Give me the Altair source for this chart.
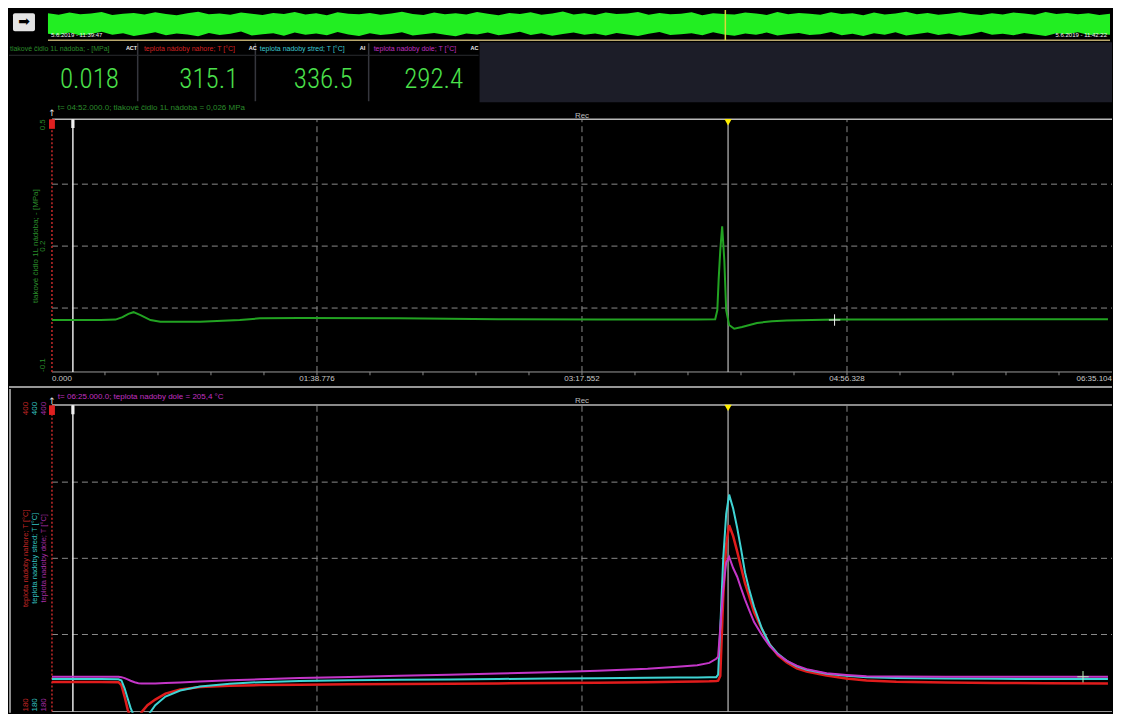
import altair as alt
import pandas as pd

# ------------------------------------------------------------------ data
DURATION = 395.104
TIME_TICKS = [0.0, 98.776, 197.552, 296.328, 395.104]
TIME_LABELS = ["0.000", "01:38.776", "03:17.552", "04:56.328", "06:35.104"]
CURSOR_T = 252.0
MARKER_T = 7.8
CROSS_TOP = (291.7, 0.021)
CROSS_BOTTOM = (384.3, 204.5)

PRESSURE_T = [0.0, 18.2, 23.7, 26.3, 28.5, 30.4, 33.0, 36.7, 40.4, 55.2,
              70.0, 77.5, 92.3, 129.4, 166.4, 203.5, 240.5, 247.2, 248.0, 248.5,
              249.1, 249.8, 250.6, 251.3, 252.4, 254.3, 257.2, 262.8, 268.4, 273.9,
              292.4, 314.7, 351.7, 393.6]
PRESSURE_MPA = [0.021, 0.021, 0.022, 0.028, 0.036, 0.040, 0.033, 0.021, 0.017, 0.017,
                0.021, 0.025, 0.026, 0.025, 0.023, 0.022, 0.022, 0.023, 0.045, 0.120,
                0.190, 0.248, 0.166, 0.045, 0.009, 0.000, 0.004, 0.014, 0.018, 0.020,
                0.022, 0.022, 0.023, 0.023]

TEMP_T = [0.0, 18.2, 24.8, 25.9, 27.1, 28.2, 29.3, 30.8, 32.2, 33.4,
          35.6, 38.5, 42.3, 47.8, 55.2, 66.3, 77.5, 92.3, 110.8, 129.4,
          147.9, 166.4, 185.0, 203.5, 222.0, 233.1, 240.5, 245.0, 247.6, 248.3,
          249.1, 250.2, 251.3, 252.4, 253.9, 255.4, 256.9, 258.3, 259.8, 261.7,
          264.6, 267.6, 270.6, 273.9, 277.6, 281.3, 288.7, 296.1, 303.6, 314.7,
          333.2, 351.7, 370.3, 393.6]
TEMP_TOP = [200.7, 200.7, 200.6, 198.5, 190.0, 181.0, 175.0, 171.0, 172.0, 179.0,
            184.0, 188.0, 192.3, 195.3, 197.1, 198.0, 198.5, 198.8, 199.1, 199.3,
            199.5, 199.7, 199.9, 200.2, 200.5, 200.8, 201.0, 201.2, 201.5, 201.7,
            205.0, 262.0, 300.0, 314.0, 306.0, 295.0, 283.0, 272.0, 263.0, 251.0,
            239.0, 227.6, 220.0, 214.8, 210.5, 208.2, 205.4, 203.3, 201.8, 200.9,
            200.3, 200.0, 199.8, 199.6]
TEMP_MID = [202.8, 202.8, 202.7, 201.8, 196.0, 189.0, 182.0, 175.0, 171.0, 171.0,
            176.0, 184.0, 190.2, 194.6, 197.4, 199.5, 200.6, 201.4, 201.9, 202.3,
            202.6, 202.9, 203.2, 203.5, 203.7, 203.9, 204.0, 204.1, 204.2, 206.0,
            240.0, 290.0, 322.0, 336.0, 326.0, 312.0, 296.0, 280.0, 268.0, 255.0,
            239.3, 227.6, 221.0, 216.0, 212.0, 209.5, 206.6, 205.2, 204.2, 203.6,
            203.2, 203.0, 202.9, 202.8]
TEMP_LOW = [204.5, 204.5, 204.5, 204.2, 203.5, 202.6, 201.6, 200.5, 199.8, 199.6,
            199.6, 199.7, 200.0, 200.4, 201.0, 201.9, 202.7, 203.6, 204.4, 205.2,
            206.0, 206.8, 207.8, 208.9, 210.3, 211.7, 212.8, 214.5, 217.5, 219.0,
            240.0, 268.0, 287.0, 291.0, 283.0, 276.7, 268.0, 260.4, 253.0, 244.0,
            234.6, 226.5, 220.5, 216.0, 212.5, 210.0, 207.0, 205.8, 204.9, 204.6,
            204.5, 204.5, 204.5, 204.5]

P_LABELS = [0.5, 0.2, -0.1]
P_GRID = [0.35, 0.2, 0.05]
T_LABELS = [400, 180]
T_GRID = [345, 290, 235]

CH_NAMES = ["tlakové čidlo 1L nádoba; - [MPa]", "teplota nádoby nahore; T [°C]",
            "teplota nadoby stred; T [°C]", "teplota nadoby dole; T [°C]"]
CH_TAGS = ["ACT", "AC", "AI", "AC"]
CH_READOUTS = ["0.018", "315.1", "336.5", "292.4"]

HEADER_TOP = "t= 04:52.000.0; tlakové čidlo 1L nádoba = 0,026 MPa"
HEADER_BOTTOM = "t= 06:25.000.0; teplota nadoby dole = 205,4 °C"
REC_TEXT = "Rec"
OVERVIEW_START = "5.6.2019 - 11:39:47"
OVERVIEW_END = "5.6.2019 - 11:42:22"

OVERVIEW_HI = [0.93, 0.87, 0.95, 0.89, 0.92, 0.97, 0.86, 0.91, 0.94, 0.88,
               0.96, 0.90, 0.85, 0.93, 0.98, 0.89, 0.92, 0.87, 0.95, 0.91,
               0.86, 0.94, 0.90, 0.97, 0.88, 0.93, 0.85, 0.96, 0.91, 0.89,
               0.94, 0.87, 0.92, 0.98, 0.90, 0.86, 0.95, 0.89, 0.93, 0.88,
               0.97, 0.91, 0.85, 0.94, 0.90, 0.96, 0.87, 0.92, 0.99, 0.88,
               0.93, 0.86, 0.95, 0.90, 0.92, 0.97, 0.87, 0.94, 0.89, 0.91,
               0.96, 0.85, 0.93, 0.90, 0.88, 0.95, 0.92, 0.86, 0.97, 0.89,
               0.94, 0.91, 0.87, 0.96, 0.90, 0.93, 0.85, 0.95, 0.88, 0.92,
               0.98, 0.89, 0.94, 0.87, 0.91, 0.96, 0.90, 0.86, 0.93, 0.88,
               0.95, 0.92, 0.87, 0.97, 0.90, 0.94, 0.89, 0.93, 0.86, 0.91]
OVERVIEW_LO = [0.14, 0.09, 0.18, 0.07, 0.13, 0.21, 0.10, 0.16, 0.05, 0.12,
               0.19, 0.08, 0.15, 0.11, 0.04, 0.17, 0.09, 0.14, 0.22, 0.07,
               0.12, 0.16, 0.06, 0.18, 0.10, 0.15, 0.08, 0.20, 0.11, 0.05,
               0.16, 0.09, 0.13, 0.19, 0.07, 0.12, 0.17, 0.10, 0.04, 0.15,
               0.11, 0.18, 0.08, 0.14, 0.21, 0.09, 0.16, 0.06, 0.13, 0.18,
               0.10, 0.15, 0.07, 0.17, 0.11, 0.05, 0.14, 0.20, 0.09, 0.12,
               0.16, 0.08, 0.19, 0.11, 0.06, 0.15, 0.10, 0.18, 0.07, 0.13,
               0.17, 0.09, 0.12, 0.20, 0.08, 0.14, 0.05, 0.16, 0.10, 0.19,
               0.07, 0.13, 0.18, 0.09, 0.15, 0.06, 0.12, 0.21, 0.10, 0.14,
               0.08, 0.17, 0.11, 0.05, 0.16, 0.12, 0.19, 0.09, 0.13, 0.10]

# ------------------------------------------------------------------ style / layout
W = 1104
H_A, H_B, H_C, H_D = 33, 62, 285, 324
FONT = "Liberation Sans, Arial, sans-serif"
DIGIT_FONT = "Roboto Condensed, Liberation Sans Narrow, Roboto, sans-serif"
GREEN_LINE = "#22a322"
GREEN_TXT = "#2b8c2b"
RED = "#e01c1c"
CYAN = "#3fd4d4"
MAG = "#c436c8"
AX_COLORS = ["#c42626", "#34c0c0", "#a52ca5"]
CH_COLORS = ["#2b8c2b", "#d42020", "#3cc8d0", "#c030c0"]
GRID = "#8a8a8a"

X_DOM = [-16.012, DURATION]
P_DOM = [-0.14355, 0.54597]
T_DOM = [178.557, 412.262]


def sc(dom, reverse=False):
    if reverse:
        return alt.Scale(domain=dom, nice=False, zero=False, reverse=True)
    return alt.Scale(domain=dom, nice=False, zero=False)


def D(**cols):
    return pd.DataFrame(cols)


def hrule(df, xs, ys, **mk):
    return alt.Chart(df).mark_rule(**mk).encode(
        x=alt.X("x0:Q", scale=xs, axis=None), x2="x1:Q",
        y=alt.Y("y:Q", scale=ys, axis=None))


def vrule(df, xs, ys, **mk):
    return alt.Chart(df).mark_rule(**mk).encode(
        x=alt.X("x:Q", scale=xs, axis=None),
        y=alt.Y("y0:Q", scale=ys, axis=None), y2="y1:Q")


def label(df, xs, ys, colored=False, **mk):
    mk.setdefault("font", FONT)
    enc = dict(x=alt.X("x:Q", scale=xs, axis=None),
               y=alt.Y("y:Q", scale=ys, axis=None), text="text:N")
    if colored:
        enc["color"] = alt.Color("c:N", scale=None)
    return alt.Chart(df).mark_text(**mk).encode(**enc)


def box(df, xs, ys, **mk):
    return alt.Chart(df).mark_rect(**mk).encode(
        x=alt.X("x0:Q", scale=xs, axis=None), x2="x1:Q",
        y=alt.Y("y0:Q", scale=ys, axis=None), y2="y1:Q")


def pt(df, xs, ys, **mk):
    return alt.Chart(df).mark_point(**mk).encode(
        x=alt.X("x:Q", scale=xs, axis=None),
        y=alt.Y("y:Q", scale=ys, axis=None))


CROSS_PATH = "M-1,0L1,0M0,-1L0,1"

# ------------------------------------------------------------------ row A: overview strip
n_env = len(OVERVIEW_HI)
ov_px = 1063 / (n_env - 1)          # pixels per overview sample
xa = sc([-39 / ov_px, (n_env - 1) + 2 / ov_px])
ya = sc([-0.1538, 1.1154])
env = pd.DataFrame({"i": list(range(n_env)), "hi": OVERVIEW_HI, "lo": OVERVIEW_LO})
green_band = alt.Chart(env).mark_area(color="#22ee22", opacity=1).encode(
    x=alt.X("i:Q", scale=xa, axis=None),
    y=alt.Y("hi:Q", scale=ya, axis=None), y2="lo:Q")
tan_line = hrule(D(x0=[0], x1=[n_env - 1], y=[-0.1154]), xa, ya, color="#b9a76c", strokeWidth=1.5)
cur_i = CURSOR_T / DURATION * (n_env - 1)
ov_cursor = vrule(D(x=[cur_i], y0=[-0.1154], y1=[1.05]), xa, ya, color="#d8d83a", strokeWidth=1.5)
icon = box(D(x0=[-35 / ov_px], x1=[-13 / ov_px], y0=[0.231], y1=[0.923]), xa, ya,
           color="#e4e4e4", cornerRadius=2)
icon_arrow = label(D(x=[-24 / ov_px], y=[0.577], text=["➡"]), xa, ya, fontSize=14,
                   color="black", font="DejaVu Sans", baseline="middle")
ov_start = label(D(x=[3 / ov_px], y=[0.077], text=[OVERVIEW_START]), xa, ya, align="left",
                 baseline="middle", fontSize=6, color="#f2f2f2")
ov_end = label(D(x=[(n_env - 1) - 3 / ov_px], y=[0.077], text=[OVERVIEW_END]), xa, ya,
               align="right", baseline="middle", fontSize=6, color="#f2f2f2")
rowA = alt.layer(green_band, tan_line, ov_cursor, icon, icon_arrow, ov_start, ov_end).properties(
    width=W, height=H_A)

# ------------------------------------------------------------------ row B: digital readouts
xb = sc([0, W])
yb = sc([0, H_B], reverse=True)
LABEL_X = [1, 135, 251, 365]
TAG_X = [117, 240, 351, 462]
VALUE_X = [110, 229.5, 344, 454.5]
SEP_X = [128.8, 246.6, 360.0]
dark_panel = box(D(x0=[471], x1=[W], y0=[1], y1=[61]), xb, yb, color="#1c1d28")
seps = vrule(D(x=SEP_X, y0=[2] * 3, y1=[60] * 3), xb, yb, color="#35363d", strokeWidth=1.5)
underline = hrule(D(x0=[0], x1=[470], y=[14]), xb, yb, color="#2a2b30", strokeWidth=1)
ch_labels = label(D(x=LABEL_X, y=[8] * 4, text=CH_NAMES, c=CH_COLORS), xb, yb, colored=True,
                  align="left", baseline="middle", fontSize=7)
ch_tags = label(D(x=TAG_X, y=[6.5] * 4, text=CH_TAGS), xb, yb, align="left",
                baseline="middle", fontSize=5.5, color="#f0f0f0", fontWeight="bold")
ch_values = label(D(x=VALUE_X, y=[38.5] * 4, text=CH_READOUTS), xb, yb, align="right",
                  baseline="middle", fontSize=27, color="#4be04b", font=DIGIT_FONT,
                  fontWeight=300)
rowB = alt.layer(dark_panel, seps, underline, ch_labels, ch_tags, ch_values).properties(
    width=W, height=H_B)

# ------------------------------------------------------------------ row C: pressure chart
xs = sc(X_DOM)
ps = sc(P_DOM)
P_TOP, P_BOT = 0.5073, -0.1048
c_hgrid = hrule(D(x0=[0] * 3, x1=[DURATION] * 3, y=P_GRID), xs, ps,
                color=GRID, strokeDash=[6, 4], strokeWidth=1)
c_vgrid = vrule(D(x=TIME_TICKS[1:4], y0=[P_BOT] * 3, y1=[P_TOP] * 3), xs, ps,
                color=GRID, strokeDash=[6, 4], strokeWidth=1)
c_top = hrule(D(x0=[0], x1=[DURATION], y=[P_TOP]), xs, ps, color="#b8b8b8", strokeWidth=1.5)
c_bot = hrule(D(x0=[0], x1=[DURATION], y=[P_BOT]), xs, ps, color="#9a9a9a", strokeWidth=1)
minor_t = [k * TIME_TICKS[1] / 5 for k in range(1, 20)]
c_minor = vrule(D(x=minor_t, y0=[P_BOT] * 19, y1=[P_BOT - 0.008] * 19), xs, ps,
                color="#8a8a8a", strokeWidth=1)
c_sep = hrule(D(x0=[X_DOM[0]], x1=[DURATION], y=[-0.1411]), xs, ps, color="#c8c8c8", strokeWidth=1.5)
c_axis = vrule(D(x=[0], y0=[P_BOT], y1=[P_TOP]), xs, ps, color="#c42a2a",
               strokeDash=[2, 2], strokeWidth=1.5)
c_mark = vrule(D(x=[MARKER_T], y0=[P_BOT], y1=[P_TOP]), xs, ps, color="#e6e6e6", strokeWidth=1.5)
c_mark_box = box(D(x0=[MARKER_T - 0.6], x1=[MARKER_T + 0.6], y0=[0.486], y1=[0.507]), xs, ps,
                 color="#f0f0f0")
c_red_box = box(D(x0=[-1.1], x1=[1.1], y0=[0.484], y1=[0.507]), xs, ps, color="#e02020")
c_cursor = vrule(D(x=[CURSOR_T], y0=[P_BOT], y1=[P_TOP]), xs, ps, color="#bdbdbd", strokeWidth=1.2)
c_tri = pt(D(x=[CURSOR_T], y=[0.4999]), xs, ps, shape="triangle-down", filled=True,
           size=55, color="#ffee00", opacity=1)
c_up = label(D(x=[0], y=[0.522], text=["↑"]), xs, ps, fontSize=9, color="#e0e0e0",
             baseline="middle", font="DejaVu Sans")
p_df = pd.DataFrame({"t": PRESSURE_T, "v": PRESSURE_MPA})
c_line = alt.Chart(p_df).mark_line(color=GREEN_LINE, strokeWidth=2).encode(
    x=alt.X("t:Q", scale=xs, axis=None), y=alt.Y("v:Q", scale=ps, axis=None))
c_cross = pt(D(x=[CROSS_TOP[0]], y=[CROSS_TOP[1]]), xs, ps, shape=CROSS_PATH, size=130,
             filled=False, color="#f0f0f0", strokeWidth=1, opacity=1)
c_header = label(D(x=[2.2], y=[0.5339], text=[HEADER_TOP]), xs, ps, align="left",
                 baseline="middle", fontSize=8, color=GREEN_TXT)
c_rec = label(D(x=[TIME_TICKS[2]], y=[0.5145], text=[REC_TEXT]), xs, ps, align="center",
              baseline="middle", fontSize=8, color="#bdbdbd")
XL_Y = -0.1218
c_xl0 = label(D(x=TIME_TICKS[:1], y=[XL_Y], text=TIME_LABELS[:1]), xs, ps, align="left",
              baseline="middle", fontSize=8, color="#c8c8c8")
c_xlm = label(D(x=TIME_TICKS[1:4], y=[XL_Y] * 3, text=TIME_LABELS[1:4]), xs, ps, align="center",
              baseline="middle", fontSize=8, color="#c8c8c8")
c_xl4 = label(D(x=TIME_TICKS[4:], y=[XL_Y], text=TIME_LABELS[4:]), xs, ps, align="right",
              baseline="middle", fontSize=8, color="#c8c8c8")
PX = -3.2
c_yl_top = label(D(x=[PX], y=[P_TOP], text=[f"{P_LABELS[0]:g}"]), xs, ps, angle=270,
                 align="right", baseline="middle", fontSize=8, color=GREEN_TXT)
c_yl_mid = label(D(x=[PX], y=[P_LABELS[1]], text=[f"{P_LABELS[1]:g}"]), xs, ps, angle=270,
                 align="center", baseline="middle", fontSize=8, color=GREEN_TXT)
c_yl_bot = label(D(x=[PX], y=[P_BOT], text=[f"{P_LABELS[2]:g}"]), xs, ps, angle=270,
                 align="left", baseline="middle", fontSize=8, color=GREEN_TXT)
c_title = label(D(x=[-5.96], y=[0.2], text=[CH_NAMES[0]]), xs, ps, angle=270,
                align="center", baseline="middle", fontSize=8, color=GREEN_TXT)
rowC = alt.layer(c_hgrid, c_vgrid, c_top, c_bot, c_minor, c_sep, c_axis, c_mark, c_mark_box,
                 c_red_box, c_cursor, c_line, c_tri, c_up, c_cross, c_header, c_rec,
                 c_xl0, c_xlm, c_xl4, c_yl_top, c_yl_mid, c_yl_bot, c_title).properties(
    width=W, height=H_C)

# ------------------------------------------------------------------ row D: temperature chart
ts = sc(T_DOM)
T_TOP, T_BOT = 400.7, 179.4
d_hgrid = hrule(D(x0=[0] * 3, x1=[DURATION] * 3, y=T_GRID), xs, ts,
                color=GRID, strokeDash=[6, 4], strokeWidth=1)
d_vgrid = vrule(D(x=TIME_TICKS[1:4], y0=[T_BOT] * 3, y1=[T_TOP] * 3), xs, ts,
                color=GRID, strokeDash=[6, 4], strokeWidth=1)
d_top = hrule(D(x0=[0], x1=[DURATION], y=[T_TOP]), xs, ts, color="#b8b8b8", strokeWidth=1.5)
d_bot = hrule(D(x0=[0], x1=[DURATION], y=[T_BOT]), xs, ts, color="#9a9a9a", strokeWidth=1)
d_border = vrule(D(x=[-15.64], y0=[T_DOM[0]], y1=[T_DOM[1]]), xs, ts, color="#bdbdbd", strokeWidth=1.5)
d_axis = vrule(D(x=[0], y0=[T_BOT], y1=[T_TOP]), xs, ts, color="#c42a2a",
               strokeDash=[2, 2], strokeWidth=1.5)
d_mark = vrule(D(x=[MARKER_T], y0=[T_BOT], y1=[T_TOP]), xs, ts, color="#e6e6e6", strokeWidth=1.5)
d_mark_box = box(D(x0=[MARKER_T - 0.6], x1=[MARKER_T + 0.6], y0=[394.0], y1=[400.5]), xs, ts,
                 color="#f0f0f0")
d_red_box = box(D(x0=[-1.1], x1=[1.1], y0=[393.5], y1=[400.5]), xs, ts, color="#e02020")
d_cursor = vrule(D(x=[CURSOR_T], y0=[T_BOT], y1=[T_TOP]), xs, ts, color="#bdbdbd", strokeWidth=1.2)
d_tri = pt(D(x=[CURSOR_T], y=[398.6]), xs, ts, shape="triangle-down", filled=True,
           size=55, color="#ffee00", opacity=1)
d_up = label(D(x=[0], y=[403.6], text=["↑"]), xs, ts, fontSize=9, color="#e0e0e0",
             baseline="middle", font="DejaVu Sans")
t_df = pd.DataFrame({"t": TEMP_T, "top": TEMP_TOP, "mid": TEMP_MID, "low": TEMP_LOW})


def temp_line(field, color, width):
    return alt.Chart(t_df).mark_line(color=color, strokeWidth=width, clip=True).encode(
        x=alt.X("t:Q", scale=xs, axis=None), y=alt.Y(f"{field}:Q", scale=ts, axis=None))


d_red = temp_line("top", RED, 2.5)
d_cyan = temp_line("mid", CYAN, 2)
d_mag = temp_line("low", MAG, 2)
d_cross = pt(D(x=[CROSS_BOTTOM[0]], y=[CROSS_BOTTOM[1]]), xs, ts, shape=CROSS_PATH, size=130,
             filled=False, color="#b8f0b8", strokeWidth=1, opacity=1)
d_header = label(D(x=[2.2], y=[406.5], text=[HEADER_BOTTOM]), xs, ts, align="left",
                 baseline="middle", fontSize=8, color="#c030c0")
d_rec = label(D(x=[TIME_TICKS[2]], y=[403.6], text=[REC_TEXT]), xs, ts, align="center",
              baseline="middle", fontSize=8, color="#bdbdbd")
AX_X = [-9.68, -6.33, -2.98]
d_yl_top = label(D(x=AX_X, y=[403.0] * 3, text=[str(T_LABELS[0])] * 3, c=AX_COLORS), xs, ts,
                 colored=True, angle=270, align="right", baseline="middle", fontSize=8)
d_yl_bot = label(D(x=AX_X, y=[T_BOT] * 3, text=[str(T_LABELS[1])] * 3, c=AX_COLORS), xs, ts,
                 colored=True, angle=270, align="left", baseline="middle", fontSize=8)
d_titles = label(D(x=AX_X, y=[290.0] * 3, text=CH_NAMES[1:], c=AX_COLORS), xs, ts,
                 colored=True, angle=270, align="center", baseline="middle", fontSize=7.5)
rowD = alt.layer(d_hgrid, d_vgrid, d_top, d_bot, d_border, d_axis, d_mark, d_mark_box,
                 d_red_box, d_cursor, d_red, d_cyan, d_mag, d_tri, d_up, d_cross,
                 d_header, d_rec, d_yl_top, d_yl_bot, d_titles).properties(width=W, height=H_D)

chart = alt.vconcat(rowA, rowB, rowC, rowD, spacing=0).properties(
    background="#000000", padding=0).configure_view(strokeWidth=0)

chart.save("out.html", embed_options={"renderer": "svg", "actions": False})
